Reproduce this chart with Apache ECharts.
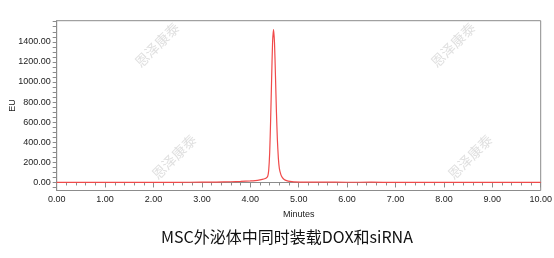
<!DOCTYPE html>
<html>
<head>
<meta charset="utf-8">
<script src="https://cdn.jsdelivr.net/npm/echarts@6/dist/echarts.min.js"></script>
<style>
html,body{margin:0;padding:0;background:#fff;}
#c{width:554px;height:258px;}
</style>
</head>
<body>
<div id="c"></div>
<script>
// Retention time (minutes)
var timeMin = [0.00, 0.50, 1.00, 1.50, 2.00, 2.50, 3.00, 3.30, 3.60, 3.80, 4.00, 4.10, 4.20, 4.28, 4.33, 4.36, 4.38, 4.40, 4.42, 4.44, 4.46, 4.48, 4.50, 4.52, 4.54, 4.56, 4.58, 4.60, 4.63, 4.66, 4.70, 4.75, 4.82, 4.90, 5.10, 5.50, 6.00, 6.50, 7.00, 8.00, 9.00, 10.00];
// Signal (EU)
var signalEU = [0, 0, 0, 0, 0.5, 1.5, 3, 4, 7, 10, 15, 19, 26, 34, 44, 62, 120, 290, 620, 1020, 1390, 1525, 1390, 1060, 700, 420, 240, 140, 80, 50, 30, 18, 10, 6, 4, 3, 2, 2.5, 1, 0.5, 0, 0];
var yLabelValues = [0, 200, 400, 600, 800, 1000, 1200, 1400];
var yTickValues = [-50, 0, 50, 100, 150, 200, 250, 300, 350, 400, 450, 500, 550, 600, 650, 700, 750, 800, 850, 900, 950, 1000, 1050, 1100, 1150, 1200, 1250, 1300, 1350, 1400, 1450, 1500, 1550, 1600];
var chartTitle = 'MSC外泌体中同时装载DOX和siRNA';
var xName = 'Minutes';
var yName = 'EU';
var watermark = '恩泽康泰';

var seriesData = timeMin.map(function (t, i) { return [t, signalEU[i]]; });

var axisColor = '#8c8c8c';
var labelFont = 'Liberation Sans';

function wm(x, y) {
  return {
    type: 'text', x: x, y: y, rotation: Math.PI / 4, z: 0,
    style: { text: watermark, fill: '#e0e0e0', font: '14px "Noto Sans CJK SC"', align: 'center', verticalAlign: 'middle' }
  };
}

var chart = echarts.init(document.getElementById('c'));
chart.setOption({
  animation: false,
  backgroundColor: '#fff',
  grid: { left: 56.7, right: 13.3, top: 20.7, bottom: 67.5, show: true, borderColor: axisColor, borderWidth: 1, backgroundColor: 'transparent', containLabel: false, outerBoundsMode: 'none' },
  xAxis: {
    type: 'value', min: 0, max: 10, interval: 1,
    name: xName, nameLocation: 'middle', nameGap: 20, nameMoveOverlap: false,
    nameTextStyle: { fontFamily: labelFont, fontSize: 9, color: '#222' },
    axisLine: { show: true, lineStyle: { color: axisColor, width: 1 } },
    axisTick: { show: true, length: 5, lineStyle: { color: axisColor } },
    minorTick: { show: true, splitNumber: 5, length: 3, lineStyle: { color: axisColor } },
    axisLabel: { fontFamily: labelFont, fontSize: 9, color: '#222', margin: 5, formatter: function (v) { return v.toFixed(2); } },
    splitLine: { show: false }
  },
  yAxis: {
    type: 'value', min: -80, max: 1610,
    name: yName, nameLocation: 'middle', nameGap: 40, nameRotate: 90, nameMoveOverlap: false,
    nameTextStyle: { fontFamily: labelFont, fontSize: 9, color: '#222' },
    axisLine: { show: true, lineStyle: { color: axisColor, width: 1 } },
    axisTick: { show: true, length: 4, customValues: yTickValues, lineStyle: { color: axisColor } },
    axisLabel: { fontFamily: labelFont, fontSize: 9, color: '#222', margin: 6, customValues: yLabelValues, formatter: function (v) { return v.toFixed(2); } },
    splitLine: { show: false }
  },
  graphic: [
    wm(157, 45), wm(453, 45), wm(174, 157), wm(470, 157),
    {
      type: 'text', x: 287, y: 237, z: 10,
      style: { text: chartTitle, fill: '#111', font: '16px "Noto Sans CJK SC"', align: 'center', verticalAlign: 'middle' }
    }
  ],
  series: [{
    type: 'line', data: seriesData, showSymbol: false, smooth: 0.2, z: 5,
    lineStyle: { color: '#f04a4a', width: 1.2 }
  }]
});
</script>
</body>
</html>
